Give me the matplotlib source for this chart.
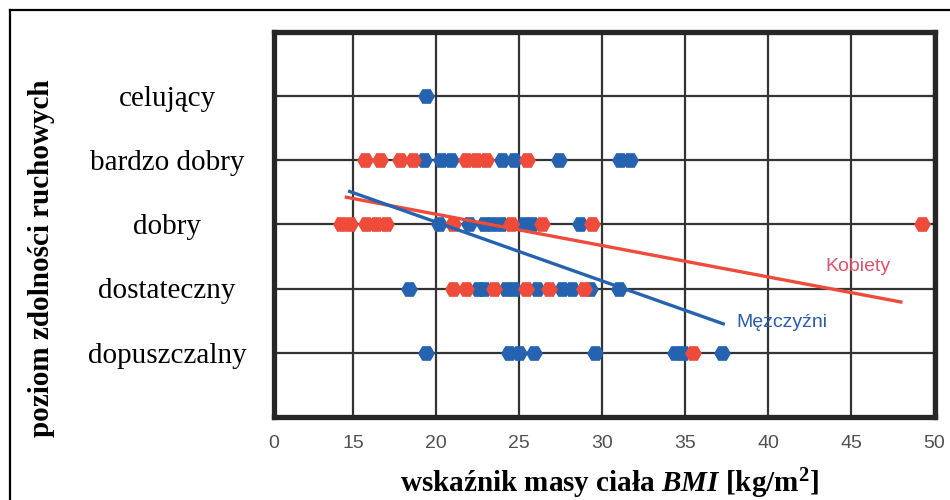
import matplotlib
matplotlib.use("Agg")
import matplotlib.pyplot as plt
from matplotlib.lines import Line2D

# grades (y positions 1..5) and BMI readings per grade
grades = ["dopuszczalny", "dostateczny", "dobry", "bardzo dobry", "celujący"]

women_bmi = {
    "bardzo dobry": [15.7, 16.6, 17.8, 18.6, 21.8, 22.4, 23.0, 25.5],
    "dobry": [14.3, 14.8, 15.8, 16.4, 17.0, 21.0, 24.5, 26.4, 29.4, 49.3],
    "dostateczny": [21.0, 21.8, 23.5, 25.4, 26.8, 28.9],
    "dopuszczalny": [35.5],
}
men_bmi = {
    "celujący": [19.4],
    "bardzo dobry": [19.3, 20.3, 20.9, 24.0, 24.7, 27.4, 31.1, 31.7],
    "dobry": [20.2, 22.0, 22.9, 23.4, 23.9, 25.3, 25.8, 28.7],
    "dostateczny": [18.4, 22.5, 22.9, 24.2, 24.7, 26.1, 27.6, 28.2, 29.3, 31.0],
    "dopuszczalny": [19.4, 24.4, 25.0, 25.9, 29.6, 34.4, 34.9, 37.2],
}

# trend lines (BMI, grade) at both ends
women_fit_x = [14.6, 48.0]
women_fit_y = [3.42, 1.79]
men_fit_x = [14.8, 37.3]
men_fit_y = [3.51, 1.45]

x_ticks = [10.25, 15, 20, 25, 30, 35, 40, 45, 50]
x_tick_labels = ["0", "15", "20", "25", "30", "35", "40", "45", "50"]

red = "#ee4b3a"
blue = "#2562b0"
serif = ["Liberation Serif", "DejaVu Serif"]
sans = ["Liberation Sans", "DejaVu Sans"]

plt.rcParams["mathtext.fontset"] = "custom"
plt.rcParams["mathtext.bf"] = "Liberation Serif:bold"
plt.rcParams["mathtext.bfit"] = "Liberation Serif:italic:bold"
plt.rcParams["mathtext.it"] = "Liberation Serif:italic:bold"

fig = plt.figure(figsize=(9.5, 5), dpi=100)
ax = fig.add_axes([0.2886, 0.166, 0.6955, 0.771])

for i, g in enumerate(grades, start=1):
    xs = men_bmi.get(g, [])
    ax.plot(xs, [i] * len(xs), "H", color=blue, ms=11, mec=blue, zorder=3)
    xs = women_bmi.get(g, [])
    ax.plot(xs, [i] * len(xs), "H", color=red, ms=11, mec=red, zorder=3)

ax.plot(women_fit_x, women_fit_y, color=red, lw=2.4, zorder=4)
ax.plot(men_fit_x, men_fit_y, color=blue, lw=2.4, zorder=4)

ax.text(45.4, 2.35, "Kobiety", color="#e0506a", fontsize=14, family=sans,
        ha="center", va="center")
ax.text(38.1, 1.47, "Mężczyźni", color="#2a5cb0", fontsize=14, family=sans,
        ha="left", va="center")

ax.set_xlim(10.25, 50.05)
ax.set_ylim(0, 6)
ax.set_xticks(x_ticks)
ax.set_xticklabels(x_tick_labels, family=sans, fontsize=14, color="#505050")
ax.set_yticks(range(1, len(grades) + 1))
ax.set_yticklabels(grades, family=serif, fontsize=21, ha="center")
ax.tick_params(axis="x", length=0, pad=13)
ax.tick_params(axis="y", length=0, pad=77)

ax.set_axisbelow(True)
ax.grid(True, color="#333333", lw=1.6)
for s in ax.spines.values():
    s.set_linewidth(3.8)
    s.set_color("#262626")

fig.text(0.044, 0.484, "poziom zdolności ruchowych", rotation=90, family=serif,
         fontsize=21, fontweight="bold", ha="center", va="center")
fig.text(0.642, 0.032, r"wskaźnik masy ciała $\mathbfit{BMI}$ [kg/m$^{\mathbf{2}}$]",
         family=serif, fontsize=21, fontweight="bold", ha="center", va="center")

# outer frame along top and left edges
fig.add_artist(Line2D([0.0105, 1.0], [0.98, 0.98], color="black", lw=1.6,
                      transform=fig.transFigure))
fig.add_artist(Line2D([0.0105, 0.0105], [0.0, 0.98], color="black", lw=1.6,
                      transform=fig.transFigure))

fig.savefig("out.png", dpi=100)
